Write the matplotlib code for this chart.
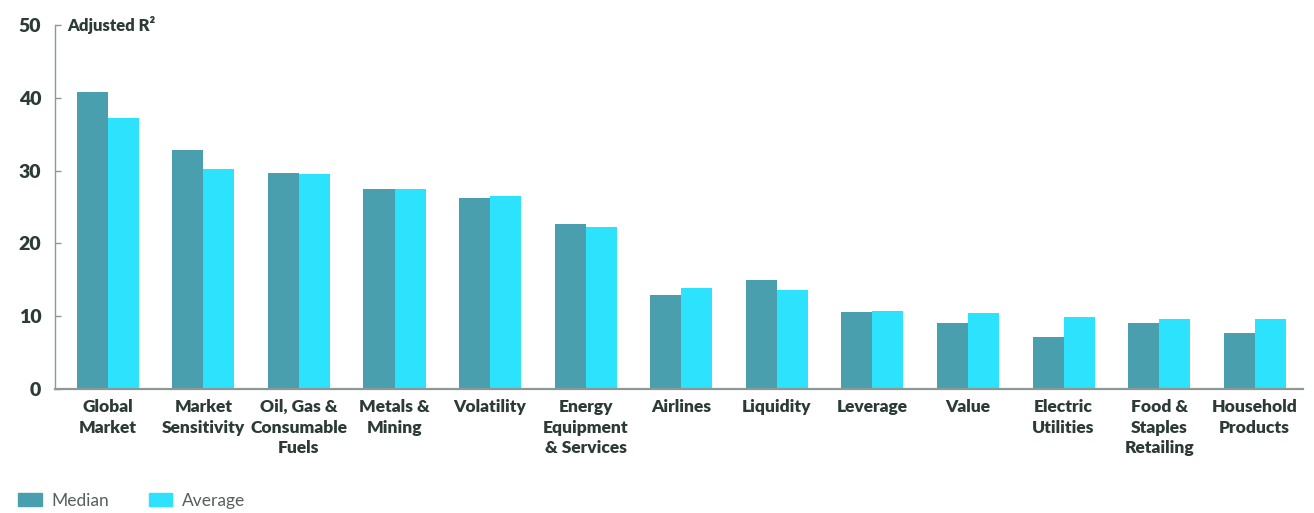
import numpy as np
from matplotlib import pyplot as plt
from matplotlib.patches import Patch

categories = ['Global\nMarket', 'Market\nSensitivity', 'Oil, Gas &\nConsumable\nFuels',
              'Metals &\nMining', 'Volatility', 'Energy\nEquipment\n& Services', 'Airlines',
              'Liquidity', 'Leverage', 'Value', 'Electric\nUtilities',
              'Food &\nStaples\nRetailing', 'Household\nProducts']
median = [40.8, 32.8, 29.7, 27.5, 26.2, 22.6, 12.9, 15.0, 10.6, 9.0, 7.1, 9.1, 7.7]
average = [37.3, 30.2, 29.5, 27.5, 26.5, 22.3, 13.9, 13.6, 10.7, 10.4, 9.9, 9.6, 9.6]
yticks = [0, 10, 20, 30, 40, 50]

teal = '#4a9fae'
cyan = '#2de2fd'
text_col = '#2c3b37'
spine_col = '#8b9995'

plt.rcParams['font.family'] = ['Lato', 'DejaVu Sans']

fig = plt.figure(figsize=(13.14, 5.13), dpi=100)
ax = fig.add_axes([0.042, 0.242, 0.95, 0.709])

x = np.arange(len(categories))
w = 0.325
ax.bar(x - w / 2, median, w, color=teal)
ax.bar(x + w / 2, average, w, color=cyan)

ax.set_xlim(-0.55, len(categories) - 0.49)
ax.set_ylim(0, 50)
ax.set_yticks(yticks)
ax.set_xticks(x)
ax.set_xticklabels(categories, fontsize=12.5, fontweight='heavy', color=text_col,
                   linespacing=1.38, va='top')
ax.tick_params(axis='x', length=0, pad=7)
ax.tick_params(axis='y', direction='in', length=4, width=1, color=spine_col,
               labelsize=14, labelcolor=text_col, pad=10)
for lab in ax.get_yticklabels():
    lab.set_fontweight('heavy')

for s in ['top', 'right']:
    ax.spines[s].set_visible(False)
ax.spines['left'].set_color(spine_col)
ax.spines['bottom'].set_color(spine_col)
ax.spines['left'].set_linewidth(1.0)
ax.spines['bottom'].set_linewidth(1.6)

ax.text(0.010, 1.0, 'Adjusted R²', transform=ax.transAxes, fontsize=12,
        fontweight='heavy', color=text_col, va='center', ha='left')

handles = [Patch(color=teal, label='Median'), Patch(color=cyan, label='Average')]
fig.legend(handles=handles, loc='lower left', bbox_to_anchor=(0.002, -0.022),
           ncol=2, frameon=False, fontsize=12.5, handlelength=1.35, handleheight=0.8,
           handletextpad=0.55, columnspacing=2.3, labelcolor='#55605c')

fig.savefig('out.png', dpi=100)
